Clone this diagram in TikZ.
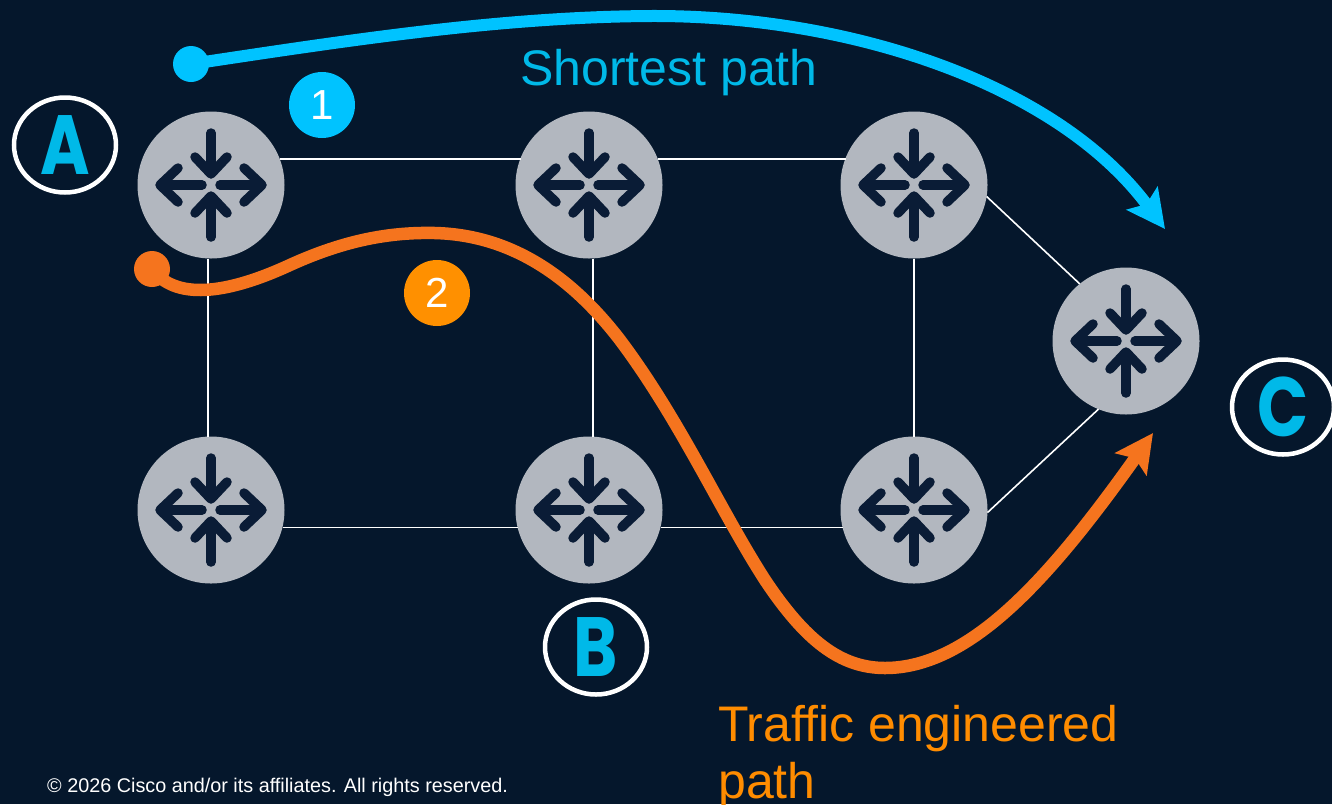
\documentclass[tikz,border=0pt]{standalone}
\usepackage{fontspec}
\setmainfont{Liberation Sans}
\newfontfamily\letterfont{Poppins}[FakeStretch=0.8]
\usetikzlibrary{arrows.meta,shapes.geometric}
\definecolor{bgc}{HTML}{05172C}
\definecolor{routerc}{HTML}{B2B7BF}
\definecolor{iconc}{HTML}{0A1C36}
\definecolor{bluec}{HTML}{00C3FF}
\definecolor{letterc}{HTML}{00B9E8}
\definecolor{orangec}{HTML}{F5741E}
\definecolor{oranget}{HTML}{FF8C00}
\definecolor{badgeo}{HTML}{FF9000}
\tikzset{
  x=1pt,y=-1pt,
  router/.style={circle,fill=routerc,minimum size=147pt,inner sep=0pt,outer sep=0pt},
  link/.style={draw=white,line width=1.6pt},
  iconline/.style={draw=iconc,line width=9.5pt,line cap=round,line join=round},
  badge/.style={circle,minimum size=66pt,inner sep=0pt,text=white,font=\fontsize{42}{42}\selectfont},
  tag/.style={draw=white,line width=4.5pt,ellipse,minimum width=102pt,minimum height=95pt,inner sep=0pt,text=letterc,font=\letterfont\bfseries\fontsize{84}{84}\selectfont},
  pathtext/.style={font=\fontsize{50}{56}\selectfont,anchor=base west,inner sep=0pt},
  bluepath/.style={draw=bluec,line width=12pt},
  orangepath/.style={draw=orangec,line width=12.5pt},
  headtip/.style={-{Stealth[length=38pt,width=38pt,inset=7pt]}},
  routericon/.pic={
    \draw[iconline] (0,-52)--(0,-13);
    \draw[iconline] (-16,-28)--(0,-11)--(16,-28);
    \draw[iconline] (0,52)--(0,13);
    \draw[iconline] (-16,28)--(0,11)--(16,28);
    \draw[iconline] (-9,0)--(-50,0);
    \draw[iconline] (-33,-17)--(-51,0)--(-33,17);
    \draw[iconline] (9,0)--(50,0);
    \draw[iconline] (33,-17)--(51,0)--(33,17);
  },
}
\begin{document}
\begin{tikzpicture}
\useasboundingbox (0,0) rectangle (1332,804);
\clip (0,0) rectangle (1332,804);
\fill[bgc] (0,0) rectangle (1332,804);

\node[router] (r1) at (211,185) {};
\node[router] (r2) at (589,185) {};
\node[router] (r3) at (914,185) {};
\node[router] (r4) at (211,510) {};
\node[router] (r5) at (589,510) {};
\node[router] (r6) at (914,510) {};
\node[router] (r7) at (1126,341) {};

\foreach \n in {r1,r2,r3,r4,r5,r6,r7} \pic at (\n.center) {routericon};

\draw[link] ([shift={(-5pt,26pt)}]r1.east) -- ([shift={(5pt,26pt)}]r2.west);
\draw[link] ([shift={(-5pt,26pt)}]r2.east) -- ([shift={(5pt,26pt)}]r3.west);
\draw[link] ([xshift=-3pt]r1.south) -- ([xshift=-3pt]r4.north);
\draw[link] ([xshift=4pt]r2.south) -- ([xshift=4pt]r5.north);
\draw[link] (r3.south) -- (r6.north);
\draw[link] ([shift={(-2pt,-17.5pt)}]r4.east) -- ([shift={(2pt,-17.5pt)}]r5.west);
\draw[link] ([shift={(-2pt,-17.5pt)}]r5.east) -- ([shift={(2pt,-17.5pt)}]r6.west);
\draw[link] (r3.-9.5) -- (r7.129);
\draw[link] (r6.-2) -- (r7.248);

\node[tag] (tA) at (65,145) {A};
\node[tag] (tB) at (596,647) {B};
\node[tag] (tC) at (1283,407) {C};

\node[badge,fill=bluec] (b1) at (322,105) {1};
\node[badge,fill=badgeo] (b2) at (437,293) {2};

\node[circle,fill=bluec,minimum size=36pt,inner sep=0pt] (sb) at (191,64) {};
\coordinate (eb) at (1165,229);
\draw[bluepath,headtip] (sb.center) .. controls (350,40) and (500,17) .. (650,16)
  .. controls (850,15) and (1057,84) .. (eb);

\node[circle,fill=orangec,minimum size=36pt,inner sep=0pt] (so) at (152,269) {};
\coordinate (eo) at (1153,433);
\draw[orangepath,headtip] (so.center) .. controls (175,300) and (225,295) .. (290,265)
  .. controls (345,240) and (390,232) .. (435,233)
  .. controls (510,235) and (570,275) .. (620,340)
  .. controls (680,420) and (720,510) .. (765,580)
  .. controls (805,640) and (840,668) .. (885,668)
  .. controls (970,668) and (1050,578) .. (eo);

\node[pathtext,text=letterc] (t1) at (520,85) {Shortest path};
\node[pathtext,text=oranget] (t2) at (718,741) {Traffic engineered};
\node[pathtext,text=oranget] (t3) at (718,798) {path};
\node[anchor=base west,inner sep=0pt,text=white,font=\fontsize{19.8}{20}\selectfont] (cr) at (47,792) {© 2026 Cisco and/or its affiliates. All rights reserved.};
\end{tikzpicture}
\end{document}
